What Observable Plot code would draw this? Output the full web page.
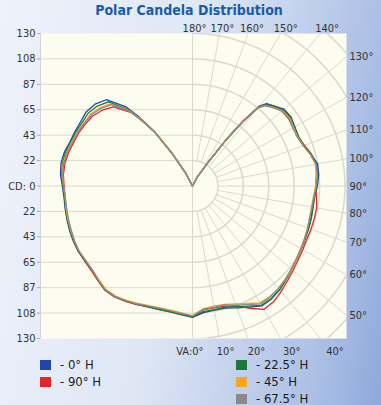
<!DOCTYPE html>
<html><head><meta charset="utf-8">
<script src="https://cdn.jsdelivr.net/npm/d3@7"></script>
<script src="https://cdn.jsdelivr.net/npm/@observablehq/plot@0.6"></script>
<style>
html,body{margin:0;padding:0;}
#wrap{position:relative;width:381px;height:405px;overflow:hidden;
 background:linear-gradient(100deg,#eef2fa 0%,#dfe7f5 45%,#abbfe5 85%,#8ea8da 100%);
 font-family:"DejaVu Sans Condensed","DejaVu Sans",sans-serif;}
#title{position:absolute;left:0;width:378px;top:2px;text-align:center;font-weight:bold;font-size:14px;color:#1d5aa6;z-index:2;}
#chart{position:absolute;left:0;top:0;}
.leg{position:absolute;font-size:13px;line-height:13px;color:#1a1a1a;display:flex;align-items:center;height:13px;white-space:nowrap;}
.sw{width:11px;height:10px;margin-right:9px;}
</style></head><body>
<div id="wrap"><div id="chart"></div><div id="title">Polar Candela Distribution</div><div id="legend"></div></div>
<script>
// ---- data (angle in degrees: 0 = straight down, +90 = right, ±180 = up) ----
const angles = [-180,-152,-148,-145,-142,-140,-135,-130,-125,-120,-115,-110,-105,-100,-95,-90,-85,-80,-75,-70,-65,-60,-55,-50,-45,-40,-35,-30,-25,-20,-15,-10,-5,
  0,
  5,10,15,20,25,30,35,40,45,50,55,60,65,70,75,80,85,90,95,100,105,110,115,120,125,130,135,138,140,142,144,147,152,180];

const cd_0 = [0,12,32,57,76,88,104,108.5,110.5,110,110.5,111,113,113.8,113,111,110,110.3,110.8,111.5,112,112.3,111.5,111.8,113.8,116,115.5,113.5,111.5,109.8,109.2,109,110,
  112,
  108.3,107.5,107.8,110.5,114,118,117.5,115.5,112.8,110.5,108.5,107,106,105.3,104.6,104,104.5,106.5,108,108.3,104.6,101,99.8,100.8,102.5,101.8,97,94.5,89,70,48,22,8,0];

const cd_22 = [0,12,31,55,73,85,101.5,106,108.5,108.5,109.5,110.5,112,112.5,112,110.5,109.5,110,110.5,111,111.5,112,111.5,111.5,113.5,115.5,115,113,111,109.5,109,109,110,
  111.5,
  107.5,107,107,109.5,113,117.5,117,115.5,113,110.5,108.5,107,106,105.5,105,104.5,104.5,106,107.5,107.5,104.5,101,99.5,100.5,102,101,96.5,93.5,88,69,47,21,8,0];

const cd_45 = [0,13,33,56,73,84,99,103.5,106.5,107,108.5,109.5,111,112,111.5,110,109,109.5,110,110.5,111,111.5,111,111.5,113,115,114.5,112.5,110.5,108.5,107.5,107.5,108.5,
  110.5,
  105,104,104.5,107,110.5,115,115,114,112.5,110.5,108.5,107,105.5,104.5,103.5,103,103.5,105,106.5,106.5,104,100.5,99,99.5,101,100,95.5,92.5,87,69,47,22,8,0];

const cd_67 = [0,13,33,56,72,83,98,102.5,105.5,106.5,108,109,110.5,111.5,111,110,109,109,109.5,110,111,111.5,111,111.5,113.5,115.5,115,113,111,109,108,108,109,
  111,
  105.5,105,105,108,111.5,116,115.5,114,112,110,108,106.5,105.5,104.5,103.5,103.5,104,105.5,107,107,104,100.5,98.5,99,100.5,99.5,95,92,87,69,48,22,8,0];

const cd_90 = [0,14,34,57,72,82,95.5,100.5,104,105.5,107,108,109.5,110.5,110.5,109.5,109,109.5,110,110.5,111.5,112,112,112.5,114,116,115.5,113.5,111.5,109.5,108.5,108,109,
  111,
  106,105.5,106,108.5,115,121.5,120.5,117.5,114.5,112,110,108.5,107.5,107.5,107.5,107.5,106,105,106,107,105,101.5,99.5,99,100,99.5,95.5,93,89,72,50,24,9,0];

const seriesNames  = ["0° H","22.5° H","45° H","67.5° H","90° H"];
const seriesValues = [cd_0, cd_22, cd_45, cd_67, cd_90];
const seriesColors = ["#1f46a8","#1b7a3b","#f5a623","#8a8a8a","#e4262a"];
const drawOrder    = [0,4,1,2,3];

const cdMax = 130;
const cdTickLabels = ["130","108","87","65","43","22","CD: 0","22","43","65","87","108","130"];
const topAngles    = [180,170,160,150,140];
const rightAngles  = [130,120,110,100,90,80,70,60,50];
const bottomAngles = [0,10,20,30,40];
const legendLeft   = [0,4];
const legendRight  = [1,2,3];

// ---- build ----
const rad = d => d*Math.PI/180;
const xDom = [-129.6, 131.3];
const yDom = [-cdMax, cdMax];
const step = cdMax/6;
const yTicks = d3.range(6,-7,-1).map(k => k*step);

const lineMarks = drawOrder.map(si => Plot.line(
  angles.map((a,i)=>({x: seriesValues[si][i]*Math.sin(rad(a)), y: -seriesValues[si][i]*Math.cos(rad(a))})),
  {x:"x", y:"y", stroke: seriesColors[si], strokeWidth: 1.3, curve: "linear"}));

// polar grid (right half)
const arcs = [];
d3.range(1,10).forEach(k => { for (let a=0;a<=180;a+=2) arcs.push({r:k*step, x:k*step*Math.sin(rad(a)), y:-k*step*Math.cos(rad(a))}); });
const spokes = d3.range(10,180,10).map(a => ({a, x1: step*Math.sin(rad(a)), y1: -step*Math.cos(rad(a)), x2: 300*Math.sin(rad(a)), y2: -300*Math.cos(rad(a))}));

const gridColor = "#d9d9cf";
const pxPerCd = 305/(2*cdMax);
const yTopLab = cdMax + 5.5/pxPerCd;
const yBotLab = -cdMax - 12.5/pxPerCd;

const plot = Plot.plot({
  width: 381, height: 358,
  marginLeft: 40, marginRight: 35, marginTop: 33, marginBottom: 20,
  x: {domain: xDom, axis: null},
  y: {domain: yDom, axis: null},
  style: {fontFamily: '"DejaVu Sans Condensed","DejaVu Sans",sans-serif', fontSize: "11px", background: "transparent", color: "#333", overflow: "visible"},
  marks: [
    Plot.frame({fill: "#fcfcef", stroke: "none"}),
    Plot.ruleY(yTicks.filter(v => Math.abs(v) < cdMax), {y: d=>d, x1: xDom[0], x2: 0, stroke: gridColor}),
    Plot.line(arcs, {x:"x", y:"y", z:"r", stroke: gridColor, clip: true}),
    Plot.link(spokes, {x1:"x1", y1:"y1", x2:"x2", y2:"y2", stroke: gridColor, clip: true}),
    Plot.ruleX([0], {stroke: gridColor}),
    Plot.ruleX([xDom[0]], {stroke: "#cfd3da"}),
    ...lineMarks,
    Plot.axisY(yTicks, {anchor: "left", tickSize: 3, tickPadding: 2, stroke: "#aab", fill: "#333",
      tickFormat: v => cdTickLabels[Math.round(6 - v/step)]}),
    Plot.text(topAngles, {x: a => yTopLab*Math.tan(rad(180-a)), y: yTopLab, text: a => a+"°", dx: 2, fill: "#333", fontSize: 11}),
    Plot.text(rightAngles, {x: xDom[1], y: a => xDom[1]*Math.tan(rad(a-90)), text: a => a+"°", dx: 3, textAnchor: "start", fill: "#333", fontSize: 11}),
    Plot.text(bottomAngles.slice(0,1), {x: a => -yBotLab*Math.tan(rad(a)), y: yBotLab, text: a => "VA:"+a+"°", dx: 11, textAnchor: "end", fill: "#333", fontSize: 11}),
    Plot.text(bottomAngles.slice(1), {x: a => -yBotLab*Math.tan(rad(a)), y: yBotLab, text: a => a+"°", dx: 4, fill: "#333", fontSize: 11})
  ]
});
document.getElementById("chart").appendChild(plot);

// legend
const leg = document.getElementById("legend");
function addLeg(list, left, top0) {
  list.forEach((si, j) => {
    const d = document.createElement("div");
    d.className = "leg";
    d.style.left = left + "px";
    d.style.top = (top0 + j*17) + "px";
    d.innerHTML = `<span class="sw" style="background:${seriesColors[si]}"></span>- ${seriesNames[si]}`;
    leg.appendChild(d);
  });
}
addLeg(legendLeft, 40, 358);
addLeg(legendRight, 236, 358);
</script>
</body></html>
